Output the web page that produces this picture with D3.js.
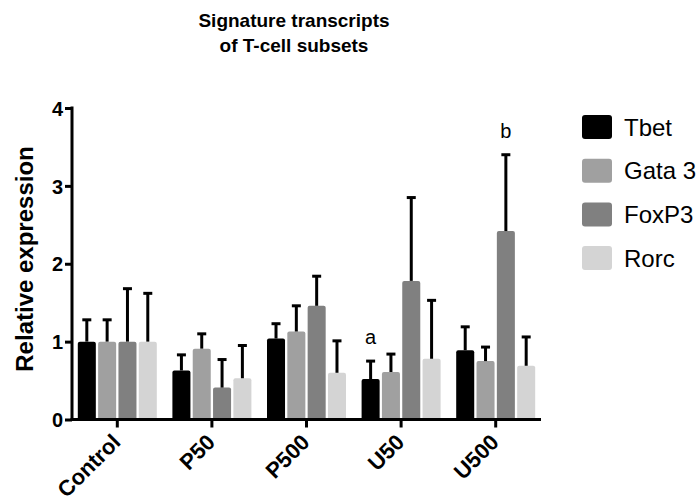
<!DOCTYPE html>
<html>
<head>
<meta charset="utf-8">
<script src="https://cdn.jsdelivr.net/npm/d3@7"></script>
<style>
  body { margin: 0; background: #fff; }
  text { font-family: "Liberation Sans", Arial, sans-serif; }
</style>
</head>
<body>
<div id="chart"></div>
<script>
// groups on the x axis and the four transcripts
const categories = ["Control", "P50", "P500", "U50", "U500"];
const seriesNames = ["Tbet", "Gata 3", "FoxP3", "Rorc"];
const seriesColors = ["#000000", "#a0a0a0", "#808080", "#d4d4d4"];

// mean relative expression, one array per transcript (order = categories)
const tbetMean  = [1.00, 0.63, 1.04, 0.52, 0.89];
const gata3Mean = [1.00, 0.91, 1.13, 0.61, 0.75];
const foxp3Mean = [1.00, 0.41, 1.46, 1.78, 2.42];
const rorcMean  = [1.00, 0.53, 0.60, 0.78, 0.69];

// upper error bar length
const tbetErr  = [0.28, 0.20, 0.19, 0.23, 0.30];
const gata3Err = [0.28, 0.19, 0.33, 0.23, 0.18];
const foxp3Err = [0.68, 0.36, 0.38, 1.07, 0.98];
const rorcErr  = [0.62, 0.42, 0.41, 0.75, 0.37];

const yTicks = [0, 1, 2, 3, 4];

// significance letters
const annotations = [
  { category: "U50", series: "Tbet", label: "a" },
  { category: "U500", series: "FoxP3", label: "b" }
];

const means = [tbetMean, gata3Mean, foxp3Mean, rorcMean];
const errs = [tbetErr, gata3Err, foxp3Err, rorcErr];

// flatten into rows for d3
let rows = [];
categories.forEach((c, ci) => {
  seriesNames.forEach((s, si) => {
    rows.push({ category: c, series: s, value: means[si][ci], err: errs[si][ci], color: seriesColors[si] });
  });
});

const W = 700, H = 503;
const svg = d3.select("#chart").append("svg")
    .attr("width", W)
    .attr("height", H);

const x0 = d3.scaleBand()
    .domain(categories)
    .range([70, 543])
    .padding(0);

const x1 = d3.scaleBand()
    .domain(seriesNames)
    .range([-39.5, 39.5])
    .paddingInner(0.113);

const y = d3.scaleLinear()
    .domain([0, 4])
    .range([419.5, 108]);

function barX(d) { return x0(d.category) + x0.bandwidth() / 2 + x1(d.series); }

// bars
svg.selectAll(".bar")
  .data(rows)
  .enter().append("rect")
    .attr("class", "bar")
    .attr("x", barX)
    .attr("y", d => y(d.value))
    .attr("width", x1.bandwidth())
    .attr("height", d => y(0) - y(d.value))
    .attr("rx", 2)
    .attr("fill", d => d.color);

// error bars (upper only)
const eb = svg.selectAll(".err")
  .data(rows)
  .enter().append("g")
    .attr("class", "err")
    .attr("stroke", "#000")
    .attr("stroke-width", 3);

eb.append("line")
    .attr("x1", d => barX(d) + x1.bandwidth() / 2)
    .attr("x2", d => barX(d) + x1.bandwidth() / 2)
    .attr("y1", d => y(d.value))
    .attr("y2", d => y(d.value + d.err));

eb.append("line")
    .attr("x1", d => barX(d) + x1.bandwidth() / 2 - 4.5)
    .attr("x2", d => barX(d) + x1.bandwidth() / 2 + 4.5)
    .attr("y1", d => y(d.value + d.err))
    .attr("y2", d => y(d.value + d.err));

// y axis
const yAxis = svg.append("g")
    .attr("transform", "translate(72,0)")
    .call(d3.axisLeft(y).tickValues(yTicks).tickFormat(d3.format("d")).tickSize(7).tickSizeOuter(0));
yAxis.select(".domain").attr("stroke-width", 3).attr("d", "M0," + (y(0) + 1.5) + "V" + (y(4) - 1.5));
yAxis.selectAll(".tick line").attr("stroke-width", 3);
yAxis.selectAll(".tick text")
    .attr("x", -9)
    .attr("dy", "0.36em")
    .style("font-size", "20px")
    .style("font-weight", "bold")
    .style("font-family", "'Liberation Sans', Arial, sans-serif")
    .attr("fill", "#000");

// x axis
const xAxis = svg.append("g")
    .attr("transform", "translate(0," + y(0) + ")")
    .call(d3.axisBottom(x0).tickSize(8).tickSizeOuter(0));
xAxis.select(".domain").attr("stroke-width", 3).attr("d", "M70.5,0H541");
xAxis.selectAll(".tick line").attr("stroke-width", 3);
xAxis.selectAll(".tick text")
    .attr("text-anchor", "end")
    .attr("x", 0).attr("y", 0).attr("dy", 0)
    .attr("transform", "translate(4.5,24) rotate(-45)")
    .style("font-size", "22px")
    .style("font-weight", "bold")
    .style("font-family", "'Liberation Sans', Arial, sans-serif")
    .attr("fill", "#000");

// y label
svg.append("text")
    .attr("transform", "translate(33,259) rotate(-90)")
    .attr("text-anchor", "middle")
    .style("font-size", "24px")
    .style("font-weight", "bold")
    .text("Relative expression");

// title
const title = svg.append("text")
    .attr("text-anchor", "middle")
    .style("font-size", "19px")
    .style("font-weight", "bold");
title.append("tspan").attr("x", 294).attr("y", 27).text("Signature transcripts");
title.append("tspan").attr("x", 294).attr("y", 52).text("of T-cell subsets");

// letters above bars
annotations.forEach(a => {
  const d = rows.find(r => r.category === a.category && r.series === a.series);
  svg.append("text")
      .attr("x", barX(d) + x1.bandwidth() / 2)
      .attr("y", y(d.value + d.err) - 17)
      .attr("text-anchor", "middle")
      .style("font-size", "20px")
      .text(a.label);
});

// legend
const legend = svg.selectAll(".legend")
  .data(seriesNames)
  .enter().append("g")
    .attr("class", "legend")
    .attr("transform", (d, i) => "translate(582," + (127 + i * 43.7) + ")");

legend.append("rect")
    .attr("x", 0)
    .attr("y", -12)
    .attr("width", 30)
    .attr("height", 24)
    .attr("rx", 3)
    .attr("fill", (d, i) => seriesColors[i]);

legend.append("text")
    .attr("x", 42)
    .attr("y", 0)
    .attr("dy", "0.36em")
    .style("font-size", "24px")
    .text(d => d);
</script>
</body>
</html>
